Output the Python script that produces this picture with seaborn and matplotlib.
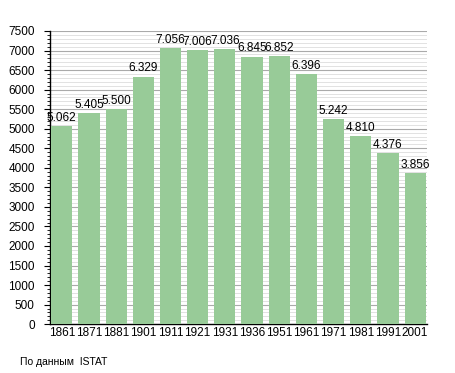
import matplotlib
matplotlib.use("Agg")
import matplotlib.pyplot as plt
import seaborn as sns
import pandas as pd
from matplotlib.ticker import MultipleLocator

years = ["1861", "1871", "1881", "1901", "1911", "1921", "1931",
         "1936", "1951", "1961", "1971", "1981", "1991", "2001"]
population = [5062, 5405, 5500, 6329, 7056, 7006, 7036,
              6845, 6852, 6396, 5242, 4810, 4376, 3856]

df = pd.DataFrame({"year": years, "pop": population})

sns.set_style("white")
plt.rcParams["font.family"] = ["Liberation Sans", "DejaVu Sans"]
plt.rcParams["text.color"] = "black"
plt.rcParams["xtick.color"] = "black"
plt.rcParams["ytick.color"] = "black"

fig = plt.figure(figsize=(4.55, 3.73), dpi=100)
ax = fig.add_axes([0.110, 0.131, 0.828, 0.786])

sns.barplot(data=df, x="year", y="pop", color="#98cb98", saturation=1,
            width=0.78, ax=ax, zorder=3, linewidth=0)

ax.set_ylim(0, 7500)
ax.set_xlim(-0.43, len(years) - 0.57)
ax.yaxis.set_major_locator(MultipleLocator(500))
ax.yaxis.set_minor_locator(MultipleLocator(100))
ax.grid(which="major", axis="y", color="#aaaaaa", linewidth=0.8, zorder=0)
ax.grid(which="minor", axis="y", color="#dddddd", linewidth=0.6, zorder=0)
ax.set_axisbelow(True)

for s in ["top", "right"]:
    ax.spines[s].set_visible(False)
for s in ["left", "bottom"]:
    ax.spines[s].set_color("black")
    ax.spines[s].set_linewidth(1)

ax.tick_params(axis="y", which="major", direction="out", length=4, width=0.8,
               labelsize=8.5, left=True, pad=7)
ax.tick_params(axis="y", which="minor", direction="out", length=2, width=0.6, left=True)
ax.tick_params(axis="x", length=0, labelsize=8.5, pad=2)
ax.set_xlabel("")
ax.set_ylabel("")

# подписи значений над столбцами
for i, v in enumerate(population):
    lbl = f"{v:,}".replace(",", ".")
    ax.text(i, v + 60, lbl, ha="center", va="bottom", fontsize=8.5, zorder=4)

fig.text(20 / 455, 1 - 362 / 373, "По данным  ISTAT", fontsize=7.5, va="center", ha="left")

fig.savefig("out.png", dpi=100)
